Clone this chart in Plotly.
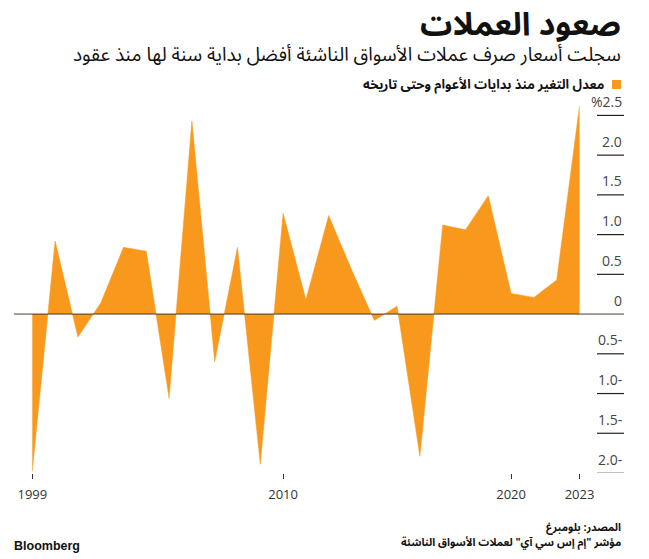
import plotly.graph_objects as go

years = list(range(1999, 2024))
ytd_change = [-1.98, 0.92, -0.29, 0.14, 0.84, 0.79, -1.06, 2.43, -0.60, 0.84,
              -1.89, 1.27, 0.18, 1.24, 0.56, -0.08, 0.10, -1.79, 1.12, 1.06,
              1.49, 0.26, 0.21, 0.43, 2.62]

x_tickvals = [1999, 2010, 2020, 2023]
y_tickvals = [2.5, 2.0, 1.5, 1.0, 0.5, 0, -0.5, -1.0, -1.5, -2.0]
y_ticktext = ["%2.5", "2.0", "1.5", "1.0", "0.5", "0", "0.5-", "1.0-", "1.5-", "2.0-"]

title = "صعود العملات"
subtitle = "سجلت أسعار صرف عملات الأسواق الناشئة أفضل بداية سنة لها منذ عقود"
legend_text = "معدل التغير منذ بدايات الأعوام وحتى تاريخه"
source1 = "المصدر: بلومبرغ"
source2 = "مؤشر \"إم إس سي آي\" لعملات الأسواق الناشئة"

ORANGE = "#F8981D"
W, H = 649, 559
ML, MR, MT, MB = 14, 25, 100, 86
PW = W - ML - MR
PH = H - MT - MB


def px_x(px):
    return (px - ML) / PW


def px_y(py):
    return (H - MB - py) / PH


fig = go.Figure()
fig.add_trace(go.Scatter(
    x=years, y=ytd_change, mode="lines", fill="tozeroy",
    fillcolor=ORANGE, line=dict(color=ORANGE, width=0.5),
    hoverinfo="x+y", showlegend=False,
))

shapes = []
annotations = []
# zero line
shapes.append(dict(type="line", xref="paper", yref="y", x0=0, x1=1, y0=0, y1=0,
                   line=dict(color="rgba(40,30,20,0.85)", width=1), layer="above"))
# short gridline stubs on the right with labels
for v, t in zip(y_tickvals, y_ticktext):
    if v != 0:
        col = "#999999" if v == y_tickvals[-1] else "#222222"
        shapes.append(dict(type="line", xref="paper", yref="y",
                           x0=px_x(597), x1=1, y0=v, y1=v,
                           line=dict(color=col, width=1.2), layer="above"))
    annotations.append(dict(text=t, xref="paper", yref="y", x=1, y=v,
                            xanchor="right", yanchor="middle", yshift=14,
                            showarrow=False,
                            font=dict(family="Open Sans, DejaVu Sans", size=14, color="#444444")))

# legend square
shapes.append(dict(type="rect", xref="paper", yref="paper",
                   x0=px_x(612), x1=px_x(621), y0=px_y(89), y1=px_y(80),
                   fillcolor=ORANGE, line=dict(width=0)))

AR = "Noto Sans Arabic, DejaVu Sans, sans-serif"
annotations += [
    dict(text="<b>" + title + "</b>", xref="paper", yref="paper",
         x=px_x(623), y=px_y(25), xanchor="right", yanchor="middle",
         showarrow=False, font=dict(family=AR, size=32, color="#111111")),
    dict(text=subtitle, xref="paper", yref="paper",
         x=px_x(623), y=px_y(55), xanchor="right", yanchor="middle",
         showarrow=False, font=dict(family=AR, size=19, color="#111111")),
    dict(text="<b>" + legend_text + "</b>", xref="paper", yref="paper",
         x=px_x(606), y=px_y(85), xanchor="right", yanchor="middle",
         showarrow=False, font=dict(family=AR, size=13, color="#111111")),
    dict(text="<b>" + source1 + "</b>", xref="paper", yref="paper",
         x=px_x(623), y=px_y(527), xanchor="right", yanchor="middle",
         showarrow=False, font=dict(family=AR, size=10.8, color="#111111")),
    dict(text="<b>" + source2 + "</b>", xref="paper", yref="paper",
         x=px_x(623), y=px_y(542), xanchor="right", yanchor="middle",
         showarrow=False, font=dict(family=AR, size=10.8, color="#111111")),
    dict(text="<b>Bloomberg</b>", xref="paper", yref="paper",
         x=px_x(12), y=px_y(546), xanchor="left", yanchor="middle",
         showarrow=False, font=dict(family="Liberation Sans, Arial", size=12.5, color="#111111")),
]

fig.update_layout(
    width=W, height=H,
    margin=dict(l=ML, r=MR, t=MT, b=MB),
    paper_bgcolor="white", plot_bgcolor="white",
    shapes=shapes, annotations=annotations,
    xaxis=dict(range=[1998.197, 2024.952], tickvals=x_tickvals,
               ticks="outside", ticklen=5, tickcolor="#333333", tickwidth=1,
               ticklabelstandoff=4,
               showgrid=False, zeroline=False, showline=False,
               tickfont=dict(family="Open Sans, DejaVu Sans", size=13, color="#333333")),
    yaxis=dict(range=[-2.0, 2.694], showgrid=False, zeroline=False,
               showticklabels=False, showline=False),
)

fig.write_html("out.html", config={"displayModeBar": False},
               post_script="document.body.style.margin='0';")
